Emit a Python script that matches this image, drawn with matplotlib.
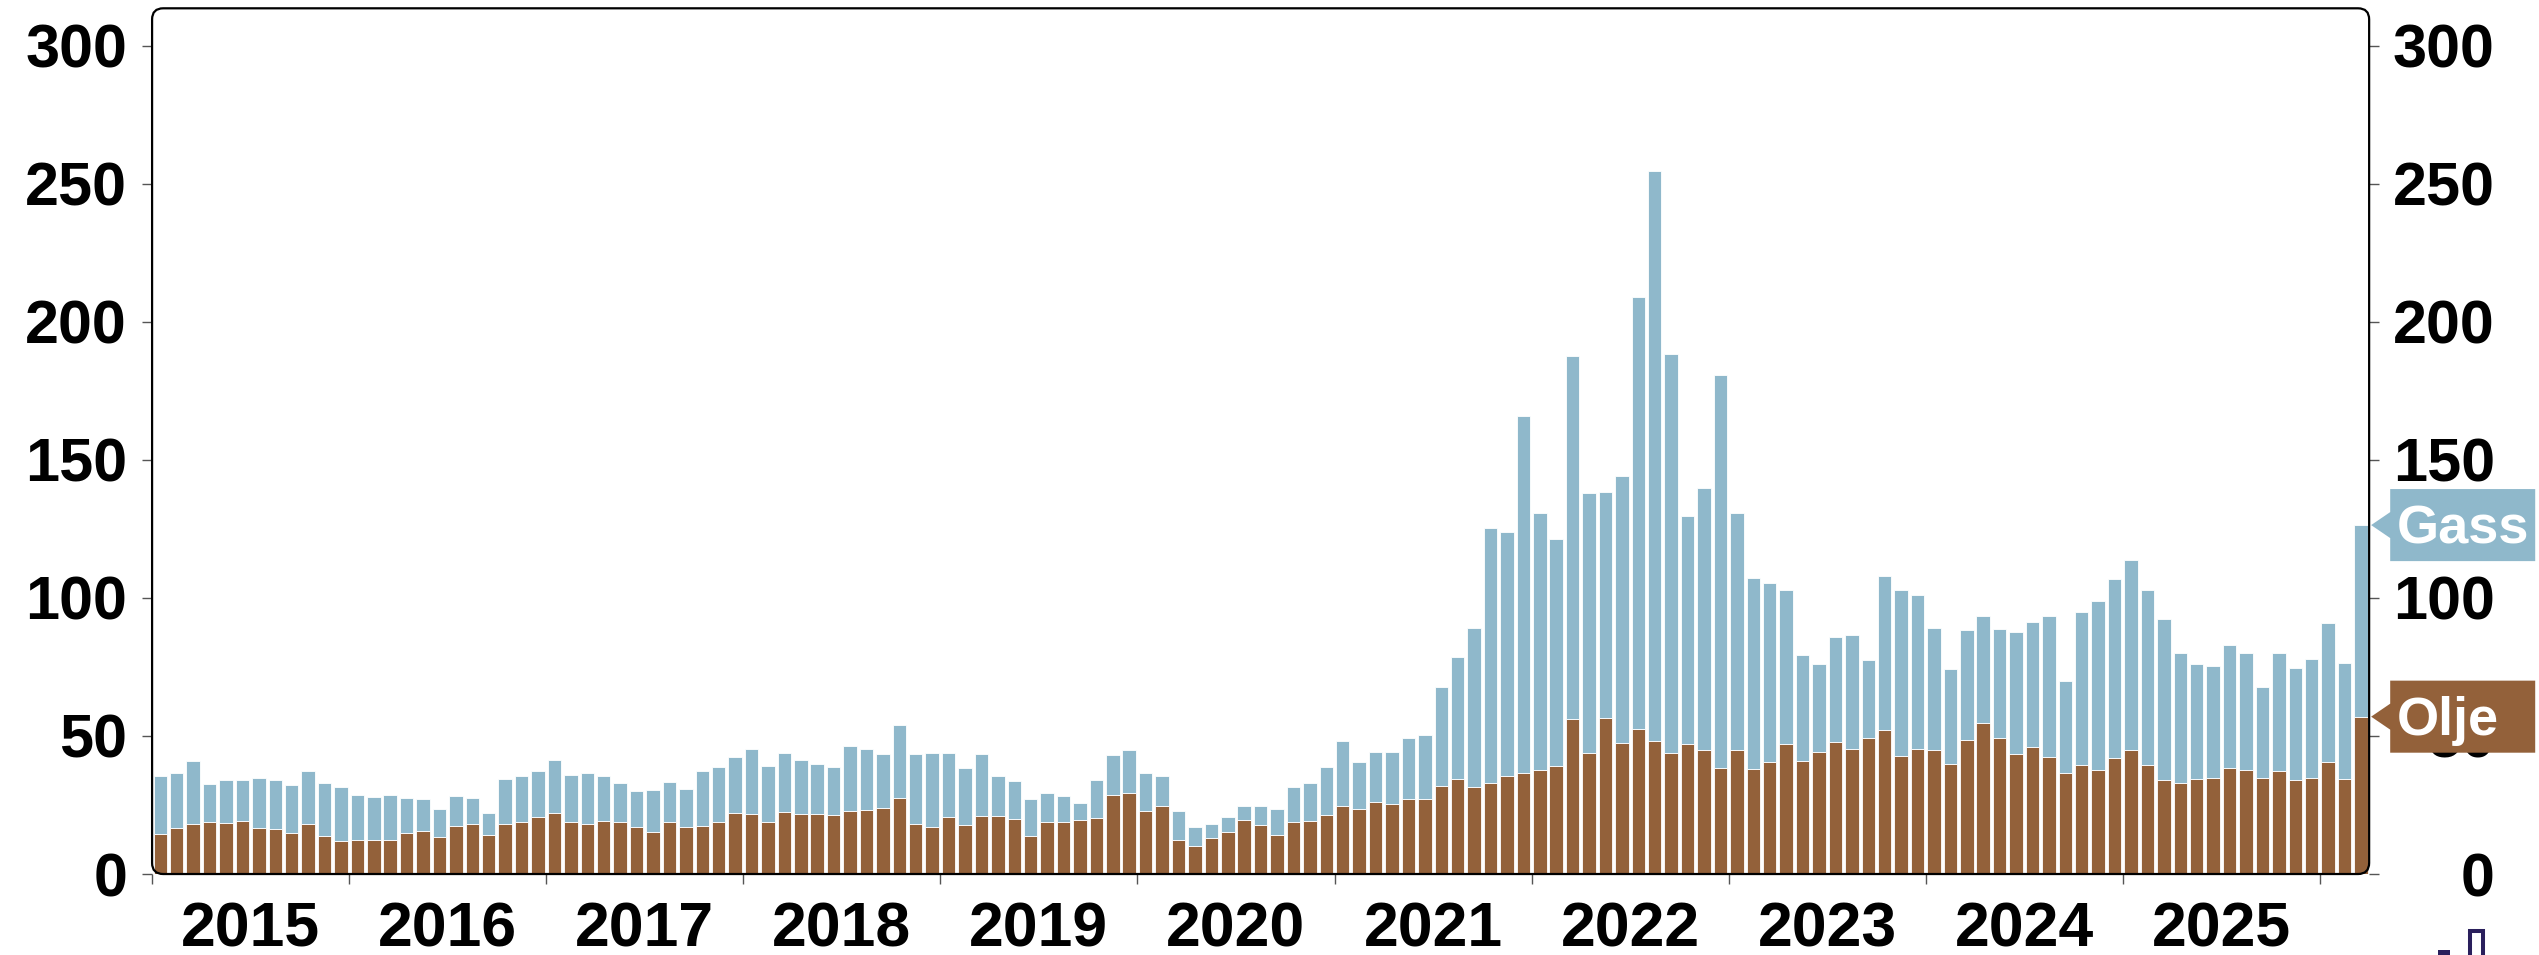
import matplotlib
matplotlib.use("Agg")
import matplotlib.pyplot as plt
import numpy as np
from matplotlib.patches import FancyBboxPatch, Polygon, Rectangle
from matplotlib.transforms import ScaledTranslation

plt.rcParams["font.family"] = ["Liberation Sans", "DejaVu Sans"]
plt.rcParams["font.weight"] = "bold"

# monthly values, Jan 2015 - Mar 2026
years = [str(y) for y in range(2015, 2026)]

olje = [14.5, 16.5, 18.1, 18.7, 18.4, 19.3, 16.7, 16.3, 14.8, 18.1, 13.7, 11.9,
        12.2, 12.3, 12.3, 14.8, 15.5, 13.5, 17.3, 18.1, 14.1, 18.1, 18.8, 20.7,
        22.0, 18.8, 18.0, 19.3, 18.7, 17.0, 15.1, 18.7, 16.9, 17.5, 18.8, 22.0,
        21.7, 18.7, 22.5, 21.9, 21.7, 21.3, 22.9, 23.1, 23.9, 27.7, 18.1, 17.1,
        20.6, 17.6, 21.1, 21.0, 19.9, 13.9, 18.8, 18.9, 19.6, 20.2, 28.6, 29.3,
        22.8, 24.7, 12.5, 10.1, 13.0, 15.3, 19.4, 17.6, 14.1, 19.0, 19.2, 21.2,
        24.6, 23.7, 26.0, 25.3, 27.3, 27.0, 32.0, 34.5, 31.6, 33.1, 35.4, 36.7,
        37.7, 39.0, 56.0, 43.9, 56.4, 47.5, 52.4, 48.1, 43.7, 47.2, 44.9, 38.4,
        44.8, 38.2, 40.4, 47.0, 41.0, 44.3, 48.0, 45.3, 49.2, 52.3, 42.8, 45.3,
        45.1, 39.8, 48.6, 54.6, 49.2, 43.3, 46.1, 42.5, 36.5, 39.5, 37.7, 42.0,
        44.9, 39.4, 34.1, 33.0, 34.5, 34.8, 38.4, 37.6, 34.7, 37.3, 34.0, 34.8,
        40.6, 34.5, 57.0]

gass = [21.0, 20.2, 22.7, 13.8, 15.8, 14.9, 18.2, 17.7, 17.6, 19.2, 19.2, 19.5,
        16.6, 15.7, 16.3, 12.9, 11.8, 10.0, 10.9, 9.6, 7.9, 16.2, 16.6, 16.5,
        19.4, 17.1, 18.5, 16.1, 14.3, 13.0, 15.3, 14.7, 13.8, 19.8, 20.1, 20.4,
        23.5, 20.5, 21.5, 19.5, 18.3, 17.6, 23.5, 22.1, 19.7, 26.4, 25.5, 26.6,
        23.4, 20.7, 22.3, 14.4, 13.7, 13.4, 10.6, 9.2, 6.3, 13.8, 14.4, 15.8,
        13.9, 10.7, 10.5, 6.8, 5.1, 5.2, 5.3, 7.0, 9.4, 12.7, 13.9, 17.5,
        23.5, 16.8, 18.1, 19.0, 22.1, 23.2, 35.8, 44.2, 57.6, 92.2, 88.6, 129.2,
        93.0, 82.3, 131.6, 94.0, 82.1, 96.6, 156.8, 206.4, 144.5, 82.5, 95.0, 142.3,
        85.9, 69.2, 65.0, 56.0, 38.2, 31.7, 38.0, 41.4, 28.5, 55.8, 60.2, 55.9,
        43.9, 34.4, 39.8, 38.8, 39.7, 44.5, 45.3, 50.8, 33.3, 55.3, 61.1, 64.9,
        69.0, 63.5, 58.2, 47.2, 41.5, 40.6, 44.4, 42.6, 33.0, 42.7, 40.8, 43.2,
        50.5, 41.8, 69.4]

c_gass = "#8FB8CB"
c_olje = "#93613A"

fig = plt.figure(figsize=(25.39, 9.55), dpi=100)
ax = fig.add_axes([0.0599, 0.0848, 0.8732, 0.9065])

x = np.arange(len(olje))
olje = np.array(olje)
gass = np.array(gass)
ax.bar(x, olje, width=0.82, color=c_olje, edgecolor="white", linewidth=0.6, zorder=2)
ax.bar(x, gass, bottom=olje, width=0.82, color=c_gass, edgecolor="white", linewidth=0.6, zorder=2)

ax.set_xlim(-0.5, len(x) - 0.5)
ax.set_ylim(0, 313.6)

# year ticks at boundaries, labels mid-year
ax.set_xticks(np.arange(0, 12 * 12, 12) - 0.5)
ax.set_xticklabels([])
ax.set_xticks(np.arange(len(years)) * 12 + 5.5, minor=True)
ax.set_xticklabels(years, minor=True, fontsize=45, fontweight="bold")
ax.tick_params(axis="x", which="major", length=7.5, width=1, color="#555555", direction="out")
ax.tick_params(axis="x", which="minor", length=0, pad=19)

ticks = [0, 50, 100, 150, 200, 250, 300]
ax.set_yticks(ticks)
ax.set_yticklabels([str(t) for t in ticks], fontsize=44, fontweight="bold")
ax.tick_params(axis="y", length=7.5, width=1, color="#555555", pad=10.5,
               left=True, right=True, labelleft=True, labelright=True)

# right side labels right-aligned
for t in ax.yaxis.get_major_ticks():
    t.label2.set_horizontalalignment("right")
    t.label2.set_fontsize(44)
    t.label2.set_fontweight("bold")
fig.canvas.draw()
for t in ax.yaxis.get_major_ticks():
    t.label2.set_transform(t.label2.get_transform() + ScaledTranslation(72.5 / 72, 0, fig.dpi_scale_trans))

for s in ax.spines.values():
    s.set_visible(False)

frame = FancyBboxPatch((0, 0), 1, 1, boxstyle="round,pad=0,rounding_size=0.005",
                       mutation_aspect=2.56, transform=ax.transAxes, fill=False,
                       edgecolor="black", linewidth=1.6, clip_on=False, zorder=4)
ax.add_patch(frame)

# end labels
tr = ax.get_yaxis_transform()
for name, val, col in [("Gass", olje[-1] + gass[-1], c_gass), ("Olje", olje[-1], c_olje)]:
    h = 13.05
    a = 4.7
    pts = [(1.0009, val), (1.0095, val + a), (1.0095, val + h), (1.0749, val + h),
           (1.0749, val - h), (1.0095, val - h), (1.0095, val - a)]
    ax.add_patch(Polygon(pts, closed=True, transform=tr, facecolor=col,
                         edgecolor="none", clip_on=False, zorder=6))
    ax.text(1.0126, val - 6.7, name, transform=tr, ha="left", va="baseline",
            fontsize=39, fontweight="bold", color="white", clip_on=False, zorder=7)

# cut-off logo fragment in the corner
fig.patches.append(Rectangle((2438 / 2539, 0), 12 / 2539, 5 / 955, transform=fig.transFigure,
                             facecolor="#2a1f5c", edgecolor="none"))
fig.patches.append(Rectangle((2470 / 2539, -0.01), 13 / 2539, 24 / 955 + 0.01, transform=fig.transFigure,
                             facecolor="none", edgecolor="#2a1f5c", linewidth=2.9))

fig.savefig("out.png", dpi=100)
